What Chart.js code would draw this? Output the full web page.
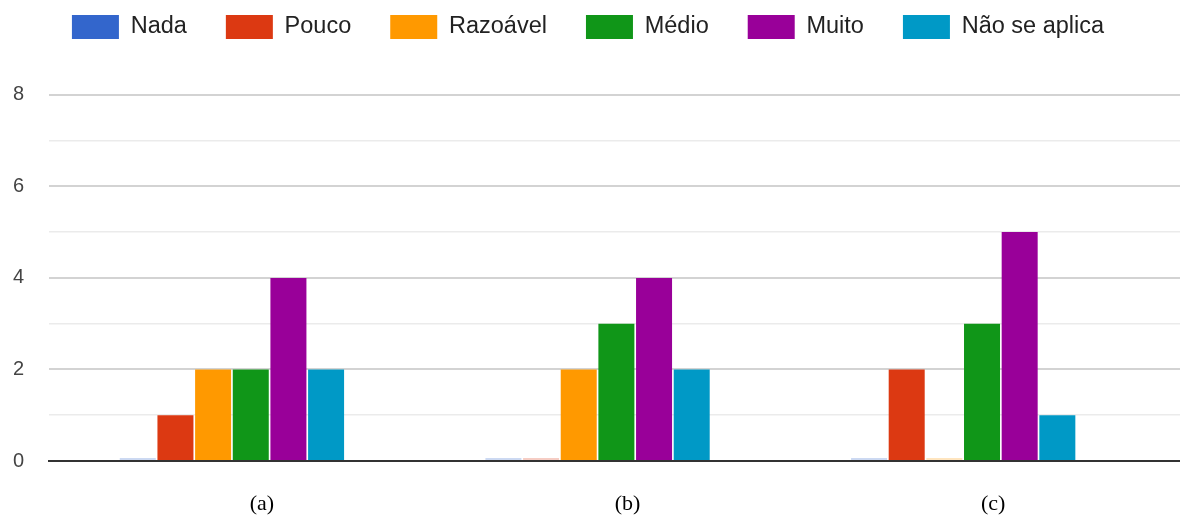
<!DOCTYPE html>
<html>
<head>
<meta charset="utf-8">
<script src="https://cdn.jsdelivr.net/npm/chart.js@4"></script>
<style>
  html, body { margin: 0; padding: 0; background: #fff; }
  #wrap { width: 1180px; height: 517px; }
</style>
</head>
<body>
<div id="wrap"><canvas id="grafico"></canvas></div>
<script>
// categorias e respostas
var categorias = ['(a)', '(b)', '(c)'];
var series = ['Nada', 'Pouco', 'Razoável', 'Médio', 'Muito', 'Não se aplica'];
var nada = [0, 0, 0];
var pouco = [1, 0, 2];
var razoavel = [2, 2, 0];
var medio = [2, 3, 3];
var muito = [4, 4, 5];
var naoSeAplica = [2, 2, 1];
var ticksY = [0, 2, 4, 6, 8];

var valores = [nada, pouco, razoavel, medio, muito, naoSeAplica];
var cores = ['#3366cc', '#dc3912', '#ff9900', '#109618', '#990099', '#0099c6'];
var coresFracas = ['rgba(51,102,204,0.25)', 'rgba(220,57,18,0.25)', 'rgba(255,153,0,0.25)',
                   'rgba(16,150,24,0.25)', 'rgba(153,0,153,0.25)', 'rgba(0,153,198,0.25)'];

function corGrade(v) {
    if (v === 0 || v > 8) return 'rgba(0,0,0,0)';
    return v % 2 === 0 ? '#d3d3d3' : '#ebebeb';
}
function larguraGrade(v) {
    return v % 2 === 0 ? 2 : 1.5;
}

var datasets = series.map(function (nome, i) {
    return {
        label: nome,
        data: valores[i],
        // barras com valor zero aparecem como um traco fraco
        backgroundColor: valores[i].map(function (v) { return v === 0 ? coresFracas[i] : cores[i]; }),
        borderWidth: 0,
        minBarLength: 3,
        barPercentage: 0.956,
        categoryPercentage: 0.618
    };
});

// prolonga as linhas da grade ate a borda direita e centra a legenda
var gradeDireita = {
    id: 'gradeDireita',
    afterLayout: function (chart) {
        chart.legend.left += 21;
        chart.legend.right += 21;
    },
    beforeDatasetsDraw: function (chart) {
        var ctx = chart.ctx;
        var y = chart.scales.y;
        var area = chart.chartArea;
        ctx.save();
        y.ticks.forEach(function (t) {
            var w = larguraGrade(t.value);
            var px = Math.round(y.getPixelForValue(t.value) - w / 2) + w / 2;
            ctx.strokeStyle = corGrade(t.value);
            ctx.lineWidth = w;
            ctx.beginPath();
            ctx.moveTo(area.right, px);
            ctx.lineTo(chart.width, px);
            ctx.stroke();
        });
        ctx.restore();
    },
    afterDatasetsDraw: function (chart) {
        var ctx = chart.ctx;
        var px = Math.round(chart.scales.y.getPixelForValue(0) - 1) + 1;
        ctx.save();
        ctx.strokeStyle = '#333';
        ctx.lineWidth = 2;
        ctx.beginPath();
        ctx.moveTo(chart.chartArea.right, px);
        ctx.lineTo(chart.width, px);
        ctx.stroke();
        ctx.restore();
    }
};

var ctx = document.getElementById('grafico');
var grafico = new Chart(ctx, {
    type: 'bar',
    data: {
        labels: categorias,
        datasets: datasets
    },
    plugins: [gradeDireita],
    options: {
        responsive: true,
        maintainAspectRatio: false,
        animation: false,
        layout: {
            padding: { top: -24, left: -12, right: 34, bottom: -30 }
        },
        plugins: {
            legend: {
                position: 'top',
                labels: {
                    boxWidth: 47,
                    boxHeight: 24,
                    padding: 39,
                    color: '#222',
                    font: { family: '"Liberation Sans", Arial, sans-serif', size: 23.5 },
                    generateLabels: function (chart) {
                        var itens = Chart.defaults.plugins.legend.labels.generateLabels(chart);
                        itens.forEach(function (item, i) {
                            item.fillStyle = cores[i];
                            item.lineWidth = 0;
                        });
                        return itens;
                    }
                }
            },
            tooltip: { enabled: false }
        },
        scales: {
            x: {
                grid: { display: false, drawTicks: false },
                border: { display: true, color: '#333', width: 2, z: 1 },
                ticks: {
                    color: '#000',
                    padding: 32,
                    labelOffset: 30,
                    font: { family: '"Liberation Serif", "Times New Roman", serif', size: 22, lineHeight: 1 }
                }
            },
            y: {
                min: 0,
                max: 9,
                border: { display: false },
                grid: {
                    drawTicks: false,
                    color: function (c) { return corGrade(c.tick.value); },
                    lineWidth: function (c) { return larguraGrade(c.tick.value); }
                },
                ticks: {
                    stepSize: 1,
                    padding: 25,
                    color: '#444',
                    font: { family: '"Liberation Sans", Arial, sans-serif', size: 20 },
                    callback: function (v) {
                        return ticksY.indexOf(v) >= 0 ? String(v) : '';
                    }
                }
            }
        }
    }
});
</script>
</body>
</html>
